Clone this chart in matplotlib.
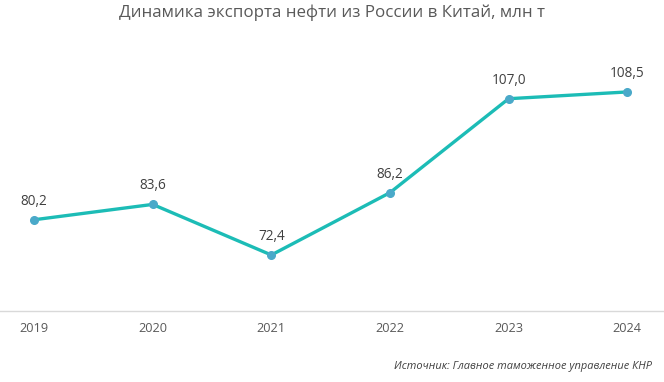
import matplotlib
matplotlib.use("Agg")
import matplotlib.pyplot as plt

years = ["2019", "2020", "2021", "2022", "2023", "2024"]
values = [80.2, 83.6, 72.4, 86.2, 107.0, 108.5]
labels = ["80,2", "83,6", "72,4", "86,2", "107,0", "108,5"]

plt.rcParams['font.family'] = ['Open Sans', 'DejaVu Sans']

fig = plt.figure(figsize=(6.64, 3.82), dpi=100)
ax = fig.add_axes([0, 1 - 311 / 382, 1, 271 / 382])

x = list(range(len(years)))
ax.plot(x, values, color="#1cbcb6", lw=2.4, zorder=2)
ax.plot(x, values, "o", color="#4aa9c9", ms=5.5, zorder=3)

for xi, v, t in zip(x, values, labels):
    ax.annotate(t, (xi, v), xytext=(0, 8), textcoords="offset points",
                ha="center", va="bottom", fontsize=9.8, color="#404040")

ax.set_xlim(-0.287, 5.31)
ax.set_ylim(60, 120)
ax.set_xticks(x)
ax.set_xticklabels(years, fontsize=9.2, color="#595959")
ax.tick_params(axis="x", length=0, pad=8)
ax.set_yticks([])
for s in ["top", "left", "right"]:
    ax.spines[s].set_visible(False)
ax.spines["bottom"].set_color("#d9d9d9")
ax.spines["bottom"].set_linewidth(1)

fig.text(0.5, 1 - 13 / 382, "Динамика экспорта нефти из России в Китай, млн т",
         ha="center", va="center", fontsize=12.2, color="#595959")
fig.text(1 - 12 / 664, 1 - 367 / 382, "Источник: Главное таможенное управление КНР",
         ha="right", va="center", fontsize=7.9, style="italic", color="#404040")

fig.savefig("out.png", dpi=100)
